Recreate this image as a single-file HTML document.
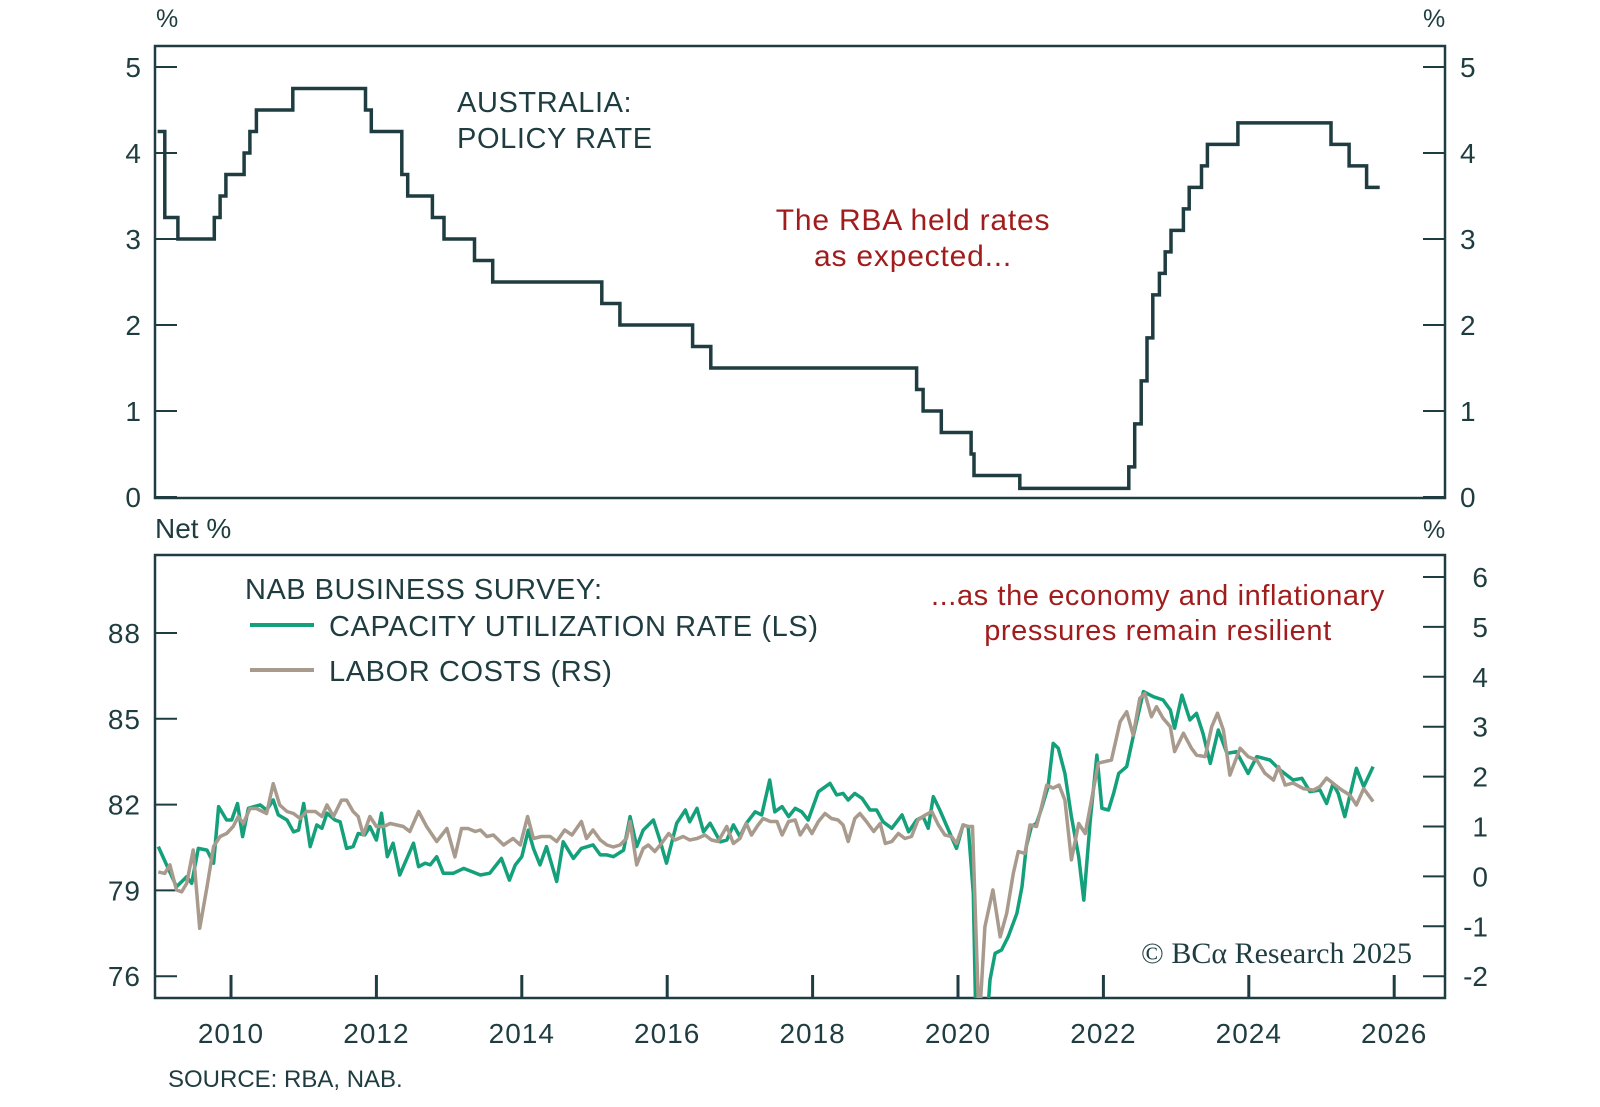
<!DOCTYPE html>
<html><head><meta charset="utf-8"><style>
html,body{margin:0;padding:0;background:#fff}
svg{display:block}
text{font-family:"Liberation Sans",sans-serif}
</style></head><body>
<svg id="chart" width="1600" height="1107" viewBox="0 0 1600 1107" xmlns="http://www.w3.org/2000/svg">
<defs>
<clipPath id="clipTop"><rect x="155" y="46" width="1290" height="452"/></clipPath>
<clipPath id="clipBot"><rect x="155" y="555" width="1290" height="443"/></clipPath>
</defs>
<g id="axes"></g>
<g id="marks"></g>
<g>
<text x="156" y="27" font-size="25" fill="#1f3d40">%</text>
<text x="1423" y="27" font-size="25" fill="#1f3d40">%</text>
<text x="457" y="112" font-size="29" letter-spacing="0.6" fill="#1f3d40">AUSTRALIA:</text>
<text x="457" y="148" font-size="29" letter-spacing="0.6" fill="#1f3d40">POLICY RATE</text>
<text x="913" y="230" font-size="30" letter-spacing="0.8" fill="#a11d1d" text-anchor="middle">The RBA held rates</text>
<text x="913" y="266" font-size="30" letter-spacing="0.8" fill="#a11d1d" text-anchor="middle">as expected...</text>
<text x="155" y="538" font-size="28" fill="#1f3d40">Net %</text>
<text x="1423" y="538" font-size="25" fill="#1f3d40">%</text>
<text x="245" y="599" font-size="29" letter-spacing="0.5" fill="#1f3d40">NAB BUSINESS SURVEY:</text>
<line x1="250" y1="625" x2="314" y2="625" stroke="#13a07a" stroke-width="4"/>
<text x="329" y="636" font-size="29" letter-spacing="0.6" fill="#1f3d40">CAPACITY UTILIZATION RATE (LS)</text>
<line x1="250" y1="670" x2="314" y2="670" stroke="#a89a8c" stroke-width="4"/>
<text x="329" y="681" font-size="29" letter-spacing="0.6" fill="#1f3d40">LABOR COSTS (RS)</text>
<text x="1158" y="605" font-size="29" letter-spacing="0.6" fill="#a11d1d" text-anchor="middle">...as the economy and inflationary</text>
<text x="1158" y="640" font-size="29" letter-spacing="0.6" fill="#a11d1d" text-anchor="middle">pressures remain resilient</text>
<text x="1412" y="963" font-size="30" fill="#1f3d40" text-anchor="end" style="font-family:'Liberation Serif',serif">© BCα Research 2025</text>
<text x="168" y="1087" font-size="24" fill="#1f3d40">SOURCE: RBA, NAB.</text>
</g>
</svg>
<script>
const rbaDates=[2008.99,2009.09,2009.27,2009.77,2009.85,2009.93,2010.18,2010.26,2010.35,2010.85,2011.85,2011.93,2012.35,2012.43,2012.77,2012.93,2013.35,2013.60,2015.10,2015.35,2016.35,2016.60,2019.43,2019.52,2019.77,2020.18,2020.22,2020.85,2022.35,2022.43,2022.52,2022.60,2022.68,2022.77,2022.85,2022.93,2023.10,2023.18,2023.35,2023.43,2023.85,2025.13,2025.38,2025.62];
const rbaRates=[4.25,3.25,3.00,3.25,3.50,3.75,4.00,4.25,4.50,4.75,4.50,4.25,3.75,3.50,3.25,3.00,2.75,2.50,2.25,2.00,1.75,1.50,1.25,1.00,0.75,0.50,0.25,0.10,0.35,0.85,1.35,1.85,2.35,2.60,2.85,3.10,3.35,3.60,3.85,4.10,4.35,4.10,3.85,3.60];
const rbaEnd=2025.80;

const capDates=[2009.00,2009.25,2009.39,2009.46,2009.55,2009.67,2009.76,2009.83,2009.94,2010.01,2010.09,2010.16,2010.24,2010.40,2010.49,2010.58,2010.65,2010.77,2010.86,2010.93,2011.00,2011.09,2011.18,2011.25,2011.32,2011.43,2011.50,2011.59,2011.68,2011.75,2011.84,2011.91,2012.00,2012.07,2012.15,2012.23,2012.32,2012.42,2012.51,2012.58,2012.67,2012.74,2012.83,2012.92,2013.06,2013.20,2013.31,2013.43,2013.56,2013.72,2013.83,2013.91,2014.00,2014.09,2014.16,2014.25,2014.34,2014.48,2014.57,2014.71,2014.82,2014.98,2015.08,2015.17,2015.26,2015.40,2015.49,2015.58,2015.67,2015.81,2015.90,2015.99,2016.13,2016.25,2016.31,2016.41,2016.50,2016.59,2016.73,2016.82,2016.91,2017.00,2017.09,2017.21,2017.30,2017.41,2017.48,2017.58,2017.67,2017.76,2017.85,2017.94,2018.08,2018.24,2018.33,2018.42,2018.49,2018.58,2018.68,2018.79,2018.88,2018.97,2019.09,2019.23,2019.32,2019.43,2019.52,2019.59,2019.66,2019.75,2019.89,2019.98,2020.07,2020.14,2020.21,2020.28,2020.44,2020.51,2020.60,2020.69,2020.81,2020.88,2020.94,2021.01,2021.08,2021.15,2021.24,2021.31,2021.38,2021.47,2021.56,2021.66,2021.73,2021.82,2021.91,2021.98,2022.07,2022.14,2022.21,2022.32,2022.41,2022.55,2022.69,2022.82,2022.92,2022.98,2023.08,2023.19,2023.28,2023.37,2023.47,2023.58,2023.70,2023.83,2023.99,2024.11,2024.29,2024.43,2024.61,2024.73,2024.84,2024.98,2025.07,2025.16,2025.23,2025.32,2025.48,2025.58,2025.71];
const capValues=[80.53,79.13,79.48,79.25,80.47,80.41,79.95,81.93,81.46,81.46,82.04,80.88,81.87,81.99,81.81,82.16,81.64,81.46,81.05,81.11,82.04,80.53,81.29,81.17,81.70,81.46,81.40,80.47,80.53,80.99,80.94,81.23,80.76,81.70,80.18,80.65,79.54,80.12,80.65,79.83,79.95,79.89,80.18,79.60,79.60,79.77,79.66,79.54,79.60,80.12,79.36,79.89,80.18,81.11,80.47,79.89,80.53,79.31,80.70,80.12,80.47,80.59,80.24,80.24,80.18,80.41,81.58,80.53,81.11,81.46,80.76,79.95,81.35,81.81,81.40,81.87,81.05,81.35,80.70,80.76,81.29,80.88,81.35,81.75,81.64,82.86,81.75,81.93,81.58,81.87,81.75,81.46,82.45,82.74,82.34,82.39,82.16,82.39,82.22,81.81,81.81,81.40,81.17,81.64,81.05,81.46,81.58,81.17,82.28,81.81,80.99,80.47,81.29,81.23,78.90,70.0,75.87,76.80,76.92,77.38,78.20,79.13,80.53,81.23,81.35,81.87,82.63,84.14,83.97,83.09,81.58,80.18,78.66,81.46,83.73,81.87,81.81,82.39,83.09,83.33,84.38,85.95,85.77,85.66,85.31,84.67,85.83,84.96,85.19,84.49,83.44,84.61,83.79,83.85,83.09,83.68,83.56,83.21,82.86,82.92,82.45,82.51,82.04,82.74,82.39,81.58,83.27,82.63,83.33];

const labDates=[2009.00,2009.09,2009.16,2009.25,2009.32,2009.39,2009.48,2009.57,2009.67,2009.76,2009.85,2009.94,2010.03,2010.10,2010.17,2010.26,2010.35,2010.49,2010.58,2010.67,2010.77,2010.86,2010.95,2011.04,2011.16,2011.25,2011.32,2011.41,2011.52,2011.59,2011.68,2011.75,2011.82,2011.91,2012.00,2012.10,2012.19,2012.28,2012.37,2012.46,2012.58,2012.69,2012.83,2012.97,2013.08,2013.17,2013.26,2013.36,2013.43,2013.52,2013.61,2013.75,2013.88,2013.98,2014.08,2014.16,2014.27,2014.39,2014.48,2014.59,2014.69,2014.82,2014.89,2014.98,2015.08,2015.17,2015.26,2015.35,2015.44,2015.49,2015.58,2015.67,2015.74,2015.83,2015.92,2016.02,2016.11,2016.22,2016.31,2016.41,2016.52,2016.61,2016.70,2016.82,2016.91,2017.00,2017.09,2017.16,2017.25,2017.32,2017.42,2017.51,2017.58,2017.67,2017.76,2017.83,2017.92,2017.99,2018.08,2018.17,2018.26,2018.35,2018.42,2018.49,2018.58,2018.65,2018.74,2018.84,2018.93,2019.00,2019.09,2019.18,2019.27,2019.36,2019.45,2019.55,2019.64,2019.73,2019.82,2019.91,2019.98,2020.07,2020.14,2020.20,2020.29,2020.37,2020.48,2020.58,2020.67,2020.76,2020.83,2020.92,2020.99,2021.08,2021.15,2021.22,2021.31,2021.39,2021.47,2021.56,2021.66,2021.75,2021.84,2021.93,2022.02,2022.11,2022.23,2022.32,2022.41,2022.50,2022.57,2022.66,2022.73,2022.82,2022.92,2022.98,2023.10,2023.21,2023.28,2023.40,2023.49,2023.57,2023.65,2023.74,2023.88,2023.99,2024.11,2024.22,2024.34,2024.41,2024.50,2024.61,2024.75,2024.89,2024.98,2025.07,2025.19,2025.28,2025.39,2025.48,2025.58,2025.71];
const labValues=[0.09,0.06,0.23,-0.27,-0.31,-0.14,0.53,-1.04,-0.21,0.60,0.80,0.86,1.00,1.20,1.06,1.36,1.36,1.26,1.86,1.43,1.30,1.26,1.16,1.30,1.30,1.20,1.43,1.20,1.53,1.53,1.30,1.20,0.83,1.20,1.00,1.00,1.06,1.03,1.00,0.90,1.30,1.00,0.70,0.96,0.39,0.96,0.96,0.90,0.93,0.80,0.83,0.63,0.76,0.63,1.20,0.76,0.80,0.80,0.70,0.93,0.83,1.10,0.76,0.93,0.73,0.63,0.59,0.63,0.76,1.10,0.23,0.56,0.63,0.50,0.66,0.86,0.73,0.80,0.73,0.76,0.83,0.73,0.70,1.00,0.66,0.76,1.06,0.83,1.03,1.16,1.10,1.10,0.83,1.10,1.13,0.83,1.03,0.86,1.10,1.26,1.16,1.13,1.03,0.70,1.16,1.26,1.10,0.90,1.06,0.66,0.70,0.86,0.76,0.80,1.13,1.23,1.30,1.03,0.83,0.80,0.66,1.03,1.00,1.00,-3.0,-1.01,-0.27,-1.21,-0.74,0.06,0.50,0.46,1.03,1.00,1.40,1.83,1.77,1.83,1.53,0.33,1.06,0.86,1.56,2.27,2.30,2.33,3.10,3.30,2.83,3.57,3.67,3.20,3.40,3.17,3.00,2.50,2.87,2.57,2.43,2.40,3.00,3.27,2.93,2.03,2.57,2.40,2.33,2.07,1.93,2.20,1.83,1.87,1.76,1.73,1.80,1.97,1.83,1.73,1.63,1.43,1.76,1.50];

const xTicks=[2010,2012,2014,2016,2018,2020,2022,2024,2026];
const topTicks=[0,1,2,3,4,5];
const capTicks=[76,79,82,85,88];
const labTicks=[-2,-1,0,1,2,3,4,5,6];

const NS="http://www.w3.org/2000/svg";
const AX="#1f3d40";
const X0=155,X1=1445,TT=46,TB=498,BT=555,BB=998;
const xs=d=>231+(d-2010)*72.7;
const yTop=v=>497-v*86;
const yCap=v=>633+(88-v)*28.6;
const yLab=v=>577+(6-v)*49.9;
const axes=document.getElementById('axes'),marks=document.getElementById('marks');
function mk(tag,attrs,parent){const e=document.createElementNS(NS,tag);for(const k in attrs)e.setAttribute(k,attrs[k]);parent.appendChild(e);return e;}

let f1=mk('rect',{x:X0,y:TT,width:X1-X0,height:TB-TT,fill:'none',stroke:AX,'stroke-width':2.5},axes);


let f2=mk('rect',{x:X0,y:BT,width:X1-X0,height:BB-BT,fill:'none',stroke:AX,'stroke-width':2.5},axes);



topTicks.forEach(v=>{
  const y=yTop(v);
  let a=mk('line',{x1:X0,x2:X0+22,y1:y,y2:y,stroke:AX,'stroke-width':2},axes);
  
  
  let b=mk('line',{x1:X1-22,x2:X1,y1:y,y2:y,stroke:AX,'stroke-width':2},axes);
  
  
  let t=mk('text',{x:141,y:y+10,'font-size':28,fill:AX,'text-anchor':'end'},axes);t.textContent=v;
  
  
  let t2=mk('text',{x:1460,y:y+10,'font-size':28,fill:AX},axes);t2.textContent=v;
  
  
});
capTicks.forEach(v=>{
  const y=yCap(v);
  let a=mk('line',{x1:X0,x2:X0+22,y1:y,y2:y,stroke:AX,'stroke-width':2},axes);
  
  
  let t=mk('text',{x:141,y:y+10,'font-size':28,'letter-spacing':1,fill:AX,'text-anchor':'end'},axes);t.textContent=v;
  
  
});
labTicks.forEach(v=>{
  const y=yLab(v);
  let a=mk('line',{x1:X1-22,x2:X1,y1:y,y2:y,stroke:AX,'stroke-width':2},axes);
  
  
  let t=mk('text',{x:1488,y:y+10,'font-size':28,fill:AX,'text-anchor':'end'},axes);t.textContent=v;
  
  
});
xTicks.forEach(d=>{
  const x=xs(d);
  let a=mk('line',{x1:x,x2:x,y1:BB-23,y2:BB,stroke:AX,'stroke-width':3},axes);
  
  
  let t=mk('text',{x:x,y:1043,'font-size':28,'letter-spacing':1,fill:AX,'text-anchor':'middle'},axes);t.textContent=d;
  
  
});

let p='';
for(let i=0;i<rbaDates.length;i++){
  const x=xs(rbaDates[i]),y=yTop(rbaRates[i]);
  const xn=xs(i+1<rbaDates.length?rbaDates[i+1]:rbaEnd);
  p+=(i===0?'M':'L')+x.toFixed(1)+','+y.toFixed(1)+'L'+xn.toFixed(1)+','+y.toFixed(1);
}
let pr=mk('path',{d:p,fill:'none',stroke:AX,'stroke-width':3.5,'clip-path':'url(#clipTop)'},marks);



function linePath(ds,vs,yf){return ds.map((d,i)=>(i?'L':'M')+xs(d).toFixed(1)+','+yf(vs[i]).toFixed(1)).join('');}
let cp=mk('path',{d:linePath(capDates,capValues,yCap),fill:'none',stroke:'#13a07a','stroke-width':3.5,'stroke-linejoin':'round','clip-path':'url(#clipBot)'},marks);


let lb=mk('path',{d:linePath(labDates,labValues,yLab),fill:'none',stroke:'#a89a8c','stroke-width':3.5,'stroke-linejoin':'round','clip-path':'url(#clipBot)'},marks);


</script>
</body></html>
